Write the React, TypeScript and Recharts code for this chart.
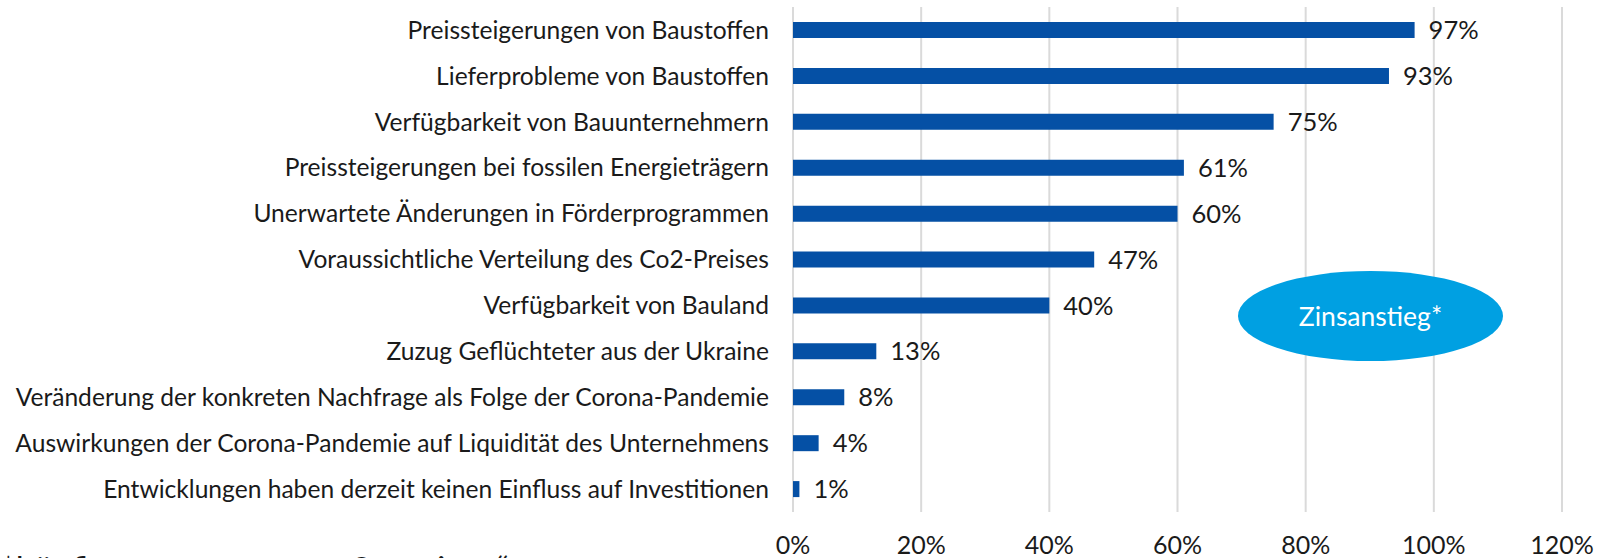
import React from "react";
import { BarChart, Bar, XAxis, YAxis, CartesianGrid, LabelList } from "recharts";

const categories = [
  "Preissteigerungen von Baustoffen",
  "Lieferprobleme von Baustoffen",
  "Verfügbarkeit von Bauunternehmern",
  "Preissteigerungen bei fossilen Energieträgern",
  "Unerwartete Änderungen in Förderprogrammen",
  "Voraussichtliche Verteilung des Co2-Preises",
  "Verfügbarkeit von Bauland",
  "Zuzug Geflüchteter aus der Ukraine",
  "Veränderung der konkreten Nachfrage als Folge der Corona-Pandemie",
  "Auswirkungen der Corona-Pandemie auf Liquidität des Unternehmens",
  "Entwicklungen haben derzeit keinen Einfluss auf Investitionen",
];
const values = [97, 93, 75, 61, 60, 47, 40, 13, 8, 4, 1];
const xTicks = [0, 20, 40, 60, 80, 100, 120];
const bubbleLabel = "Zinsanstieg*";
const footnote = "*häufig genannt unter „Sonstiges“";

const data = categories.map((c, i) => ({ name: c, value: values[i] }));

const FONT = "Lato, 'Noto Sans', sans-serif";

export default function App() {
  return (
    <div
      style={{
        position: "absolute",
        left: 0,
        top: 0,
        width: 1610,
        height: 558,
        overflow: "hidden",
        background: "#ffffff",
        fontFamily: FONT,
      }}
    >
      <BarChart
        width={1610}
        height={558}
        data={data}
        layout="vertical"
        margin={{ top: 7, right: 48, bottom: 0, left: 0 }}
        barCategoryGap={0}
      >
        <CartesianGrid horizontal={false} vertical={true} stroke="#dadada" strokeWidth={2} />
        <XAxis
          type="number"
          domain={[0, 120]}
          ticks={xTicks}
          interval={0}
          tickFormatter={(v: number) => `${v}%`}
          axisLine={false}
          tickLine={false}
          tickSize={0}
          tickMargin={24}
          height={46}
          tick={{ fill: "#1a1a1a", fontSize: 25, fontFamily: FONT }}
        />
        <YAxis
          type="category"
          dataKey="name"
          width={793}
          axisLine={false}
          tickLine={false}
          tickSize={0}
          tickMargin={24}
          interval={0}
          tick={{ fill: "#1a1a1a", fontSize: 24.6, fontFamily: FONT }}
        />
        <Bar dataKey="value" fill="#0550a5" barSize={16} isAnimationActive={false}>
          <LabelList
            dataKey="value"
            position="right"
            offset={14}
            formatter={(v: number) => `${v}%`}
            style={{ fill: "#1a1a1a", fontSize: 25.5, fontFamily: FONT }}
          />
        </Bar>
      </BarChart>
      <div
        style={{
          position: "absolute",
          left: 1238,
          top: 271,
          width: 265,
          height: 90,
          borderRadius: "50%",
          background: "#00a0e2",
          color: "#ffffff",
          fontSize: 26.5,
          display: "flex",
          alignItems: "center",
          justifyContent: "center",
        }}
      >
        {bubbleLabel}
      </div>
      <div
        style={{
          position: "absolute",
          left: 1,
          top: 552,
          fontSize: 34.5,
          lineHeight: "34.5px",
          color: "#1a1a1a",
          whiteSpace: "nowrap",
        }}
      >
        {footnote}
      </div>
    </div>
  );
}
